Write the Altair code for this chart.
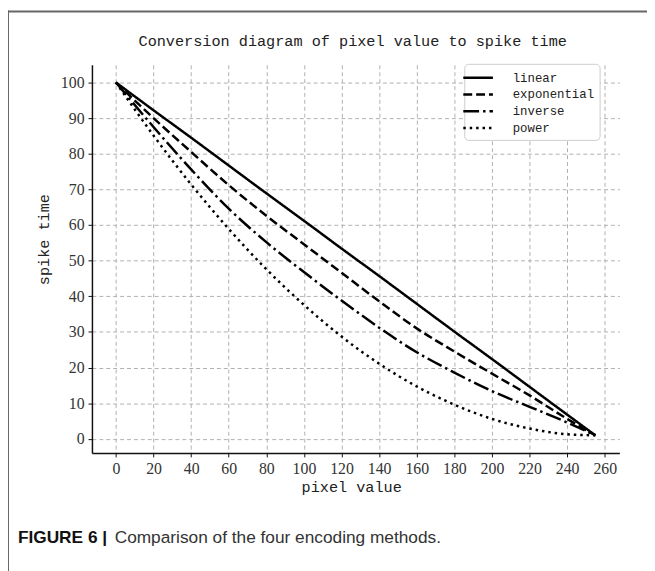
import altair as alt
import pandas as pd

# ---- data ----
pixel_value = [0, 20, 40, 60, 80, 100, 120, 140, 160, 180, 200, 220, 240, 255]
linear = [100, 92.2, 84.5, 76.7, 68.9, 61.2, 53.4, 45.7, 37.9, 30.1, 22.4, 14.6, 6.8, 1]
exponential = [100, 90.0, 80.5, 71.2, 62.6, 54.6, 46.6, 38.6, 31.0, 24.5, 18.3, 12.2, 5.6, 1]
inverse = [100, 87.5, 75.6, 64.6, 55.2, 46.8, 38.8, 31.2, 24.3, 18.6, 13.4, 9.0, 4.6, 1]
power = [100, 85.1, 71.4, 58.9, 47.6, 37.6, 28.7, 21.1, 14.7, 9.6, 5.6, 2.9, 1.3, 1]
methods = ["linear", "exponential", "inverse", "power"]
x_ticks = list(range(0, 261, 20))
y_ticks = list(range(0, 101, 10))

title_text = "Conversion diagram of pixel value to spike time"
x_title = "pixel value"
y_title = "spike time"
caption_bold = "FIGURE 6 |"
caption_text = "Comparison of the four encoding methods."

rows = []
for name, vals in zip(methods, [linear, exponential, inverse, power]):
    for xv, yv in zip(pixel_value, vals):
        rows.append({"pixel": xv, "spike": yv, "method": name})
df = pd.DataFrame(rows)

W, H = 534, 393
MONO = "Liberation Mono"
SERIF = "Liberation Serif"

x_scale = alt.Scale(domain=[-12.75, 267.75], nice=False, zero=False)
y_scale = alt.Scale(domain=[-3.95, 104.95], nice=False, zero=False)

lines = alt.Chart(df).mark_line(color="black", strokeWidth=2.5, interpolate="monotone").encode(
    x=alt.X("pixel:Q", scale=x_scale, axis=alt.Axis(values=x_ticks, title=None)),
    y=alt.Y("spike:Q", scale=y_scale, axis=alt.Axis(values=y_ticks, title=None)),
    strokeDash=alt.StrokeDash(
        "method:N",
        scale=alt.Scale(domain=methods, range=[[1, 0], [9, 4], [16, 4, 2.5, 4], [2.5, 4]]),
        legend=alt.Legend(
            title=None, orient="none", legendX=377, legendY=-1,
            symbolType="M-2,0H2", symbolSize=225, symbolStrokeWidth=2.5,
            symbolStrokeColor="black", labelFont=MONO, labelFontSize=12.5,
            labelColor="#222222", labelOffset=26, rowPadding=1, padding=5,
            fillColor="white", strokeColor="#cccccc", cornerRadius=4,
        ),
    ),
    order=alt.Order("pixel:Q"),
)


def text_layer(txt, x, y, size, font=MONO, weight="normal", angle=0, align="center", color="#222222"):
    return alt.Chart(pd.DataFrame({"t": [txt]})).mark_text(
        font=font, fontSize=size, fontWeight=weight, angle=angle, align=align,
        baseline="middle", color=color,
    ).encode(x=alt.value(x), y=alt.value(y), text="t:N")


title = text_layer(title_text, 264, -24, 15.4)
xlab = text_layer(x_title, 263, 428, 15.4)
ylab = text_layer(y_title, -48, 177, 15.4, angle=270)
cap1 = text_layer(caption_bold, -75, 479, 17.5, font="Liberation Sans", weight="bold", align="left", color="#111111")
cap2 = text_layer(caption_text, 23, 479, 17.5, font="Liberation Sans", align="left", color="#333333")

frame_df = pd.DataFrame({"k": [0]})
frame_top = alt.Chart(frame_df).mark_rule(color="#666666", strokeWidth=2).encode(
    x=alt.value(-86), x2=alt.value(W + 30), y=alt.value(-54)
)
frame_left = alt.Chart(frame_df).mark_rule(color="#666666", strokeWidth=2).encode(
    x=alt.value(-85), y=alt.value(-55), y2=alt.value(H + 120)
)

chart = alt.layer(frame_top, frame_left, lines, title, xlab, ylab, cap1, cap2).properties(
    width=W, height=H,
    autosize=alt.AutoSizeParams(type="none"),
    padding={"left": 85, "top": 54, "right": 28, "bottom": 116},
).configure_view(stroke=None).configure_axis(
    domainColor="#111111", domainWidth=1.5, tickColor="#111111", tickSize=4, tickWidth=1,
    labelFont=SERIF, labelFontSize=16, labelColor="#333333", labelPadding=4,
    grid=True, gridDash=[4, 3], gridColor="#b0b0b0", gridWidth=1,
)

chart.save("out.html", embed_options={"renderer": "svg", "actions": False})
